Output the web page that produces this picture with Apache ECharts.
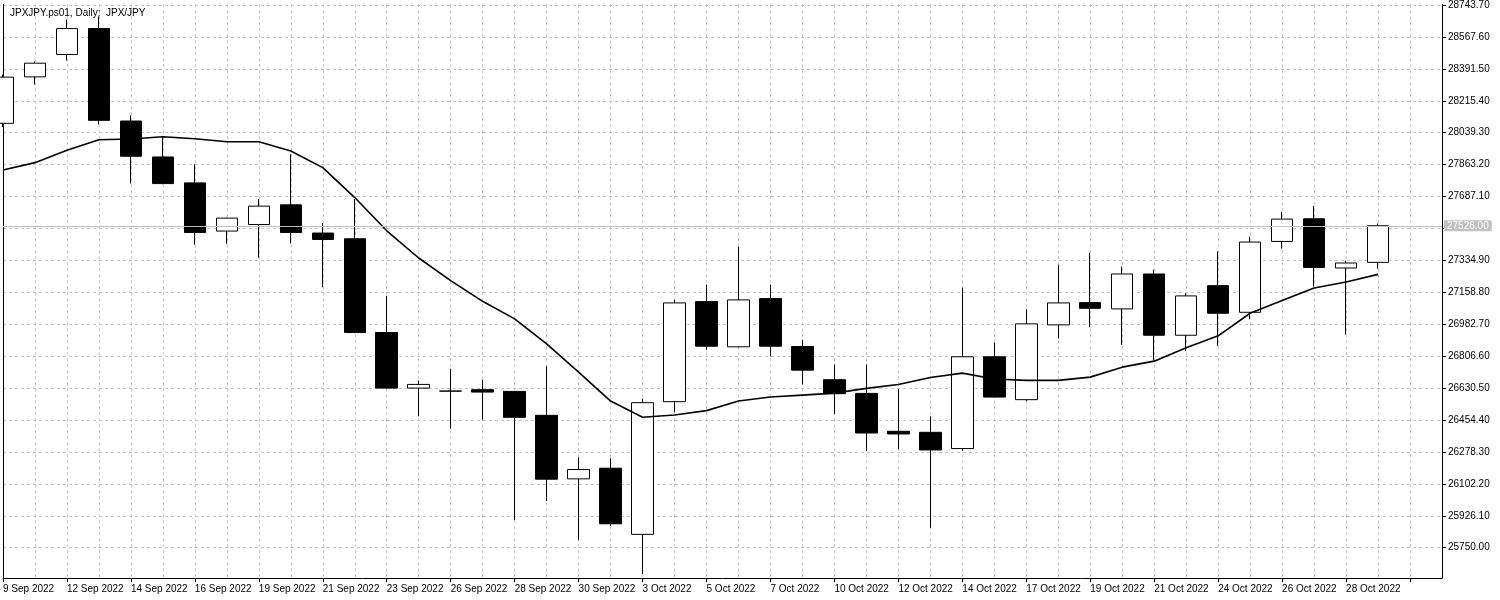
<!DOCTYPE html>
<html>
<head>
<meta charset="utf-8">
<script src="https://cdn.jsdelivr.net/npm/echarts@6/dist/echarts.min.js"></script>
<style>
html,body{margin:0;padding:0;background:#fff;}
#chart{width:1500px;height:600px;}
</style>
</head>
<body>
<div id="chart"></div>
<script>
const chartTitle = 'JPXJPY.ps01, Daily:  JPX/JPY';

const categories = [
  '9 Sep 2022','10 Sep 2022','12 Sep 2022','13 Sep 2022','14 Sep 2022','15 Sep 2022','16 Sep 2022','17 Sep 2022',
  '19 Sep 2022','20 Sep 2022','21 Sep 2022','22 Sep 2022','23 Sep 2022','24 Sep 2022',
  '26 Sep 2022','27 Sep 2022','28 Sep 2022','29 Sep 2022','30 Sep 2022','1 Oct 2022',
  '3 Oct 2022','4 Oct 2022','5 Oct 2022','6 Oct 2022','7 Oct 2022','8 Oct 2022',
  '10 Oct 2022','11 Oct 2022','12 Oct 2022','13 Oct 2022','14 Oct 2022','15 Oct 2022',
  '17 Oct 2022','18 Oct 2022','19 Oct 2022','20 Oct 2022','21 Oct 2022','22 Oct 2022',
  '24 Oct 2022','25 Oct 2022','26 Oct 2022','27 Oct 2022','28 Oct 2022','29 Oct 2022',
  '',''
];

const opens = [28091, 28347.4, 28470.7, 28613.8, 28103.6, 27905.5, 27762.5, 27496.7, 27533, 27641.4,
  27485.7, 27454.3, 26937, 26630.5, 26614, 26621.7, 26612.3, 26480.3, 26129.8, 26188.6,
  25823.8, 26555.6, 27107.6, 26858.3, 27124.1, 26860, 26676.7, 26601.3, 26392.2, 26386.7,
  26297, 26803.3, 26566.7, 26979.3, 27102.1, 27067.4, 27260, 26922.1, 27195.7, 27048.7,
  27439.5, 27564.4, 27293, 27324.1];

const closes = [28345.8, 28422.8, 28613.8, 28107.5, 27909.4, 27758.6, 27489, 27568.2, 27634.2, 27489,
  27450.5, 26937, 26630.5, 26650.8, 26614, 26608.5, 26469.3, 26128.1, 26181.5, 25882.1,
  26550.1, 27100.4, 26861.6, 27117, 26861.6, 26729.6, 26599.6, 26382.8, 26377.4, 26289.3,
  26803.3, 26580.9, 26984.8, 27100.4, 27070.7, 27260, 26922.1, 27139, 27043.3, 27436.1,
  27562.7, 27296.4, 27320.6, 27526];

const lows = [28070, 28305.6, 28437.7, 28085.5, 27758.6, 27755, 27421.3, 27426.8, 27349.7, 27428.4,
  27186.3, 26933.2, 26628, 26474.8, 26407, 26456.8, 25902.5, 26007, 25792.4, 25869.5,
  25605.3, 26496.8, 26841.8, 26855, 26805, 26650.8, 26487.4, 26283.8, 26293.2, 25860,
  26285, 26578, 26558.9, 26904, 26966, 26869.3, 26782.9, 26834.1, 26861.6, 27010,
  27399.3, 27190, 26926, 27289.5];

const highs = [28360, 28433.8, 28663.3, 28681.5, 28135, 28015.6, 27865.4, 27570, 27672.8, 27920.4,
  27540.7, 27672.8, 27139, 26672.9, 26737.3, 26676.7, 26614, 26749.9, 26249.2, 26243.7,
  26572.1, 27117.5, 27201.1, 27410.3, 27201.1, 26896.8, 26760.9, 26760.9, 26625, 26474.8,
  27184.6, 26880.9, 27065.2, 27311.2, 27377.2, 27300.2, 27283.7, 27153.3, 27384.4, 27465.2,
  27602.9, 27635.9, 27333.2, 27538.5];

const maValues = [27833.9, 27874.2, 27942.4, 28000.7, 28004.6, 28017.2, 28006.2, 27989.7, 27989.7, 27938.5,
  27846.6, 27681.6, 27498.3, 27348.1, 27223.2, 27109.3, 27012.4, 26874.9, 26718.6, 26559,
  26469.3, 26482, 26506.2, 26559, 26581, 26592, 26603, 26628.8, 26650.8, 26689.3,
  26713, 26681.1, 26672.9, 26672.9, 26691, 26746, 26779.1, 26852.8, 26918.8, 27043.3,
  27113.1, 27183, 27216, 27257.8];

const yTicks = [25750.0, 25926.1, 26102.2, 26278.3, 26454.4, 26630.5, 26806.6, 26982.7, 27158.8,
  27334.9, 27511.0, 27687.1, 27863.2, 28039.3, 28215.4, 28391.5, 28567.6, 28743.7];

const lastPrice = 27526.00;
const yMin = 25583;
const yMax = 28747.5;

const FONT = '"Liberation Sans", Arial, sans-serif';
const candleData = opens.map((o, i) => [o, closes[i], lows[i], highs[i]]);

const chart = echarts.init(document.getElementById('chart'), null, {renderer: 'canvas'});
chart.setOption({
  animation: false,
  backgroundColor: '#ffffff',
  textStyle: {fontFamily: FONT},
  title: {
    text: chartTitle, left: 5, top: 3,
    textStyle: {fontSize: 10, fontWeight: 'normal', color: '#000', fontFamily: FONT}
  },
  grid: {left: 2, right: 58, top: 3, bottom: 22, containLabel: false},
  xAxis: {
    type: 'category',
    data: categories,
    boundaryGap: false,
    axisLine: {show: true, onZero: false, lineStyle: {color: '#000', width: 1}},
    axisTick: {show: true, interval: 1, length: 4, lineStyle: {color: '#000'}},
    axisLabel: {interval: 1, align: 'left', margin: 6, color: '#000', fontSize: 10, fontFamily: FONT},
    splitLine: {show: true, interval: 0, lineStyle: {color: '#c6c6c6', type: [3, 3], width: 1}}
  },
  yAxis: [{
    type: 'value',
    position: 'right',
    min: yMin, max: yMax,
    axisLine: {show: true, lineStyle: {color: '#000', width: 1}},
    axisTick: {show: true, length: 4, customValues: yTicks, lineStyle: {color: '#000'}},
    axisLabel: {customValues: yTicks, margin: 6, color: '#000', fontSize: 10, fontFamily: FONT,
      formatter: v => Number(v).toFixed(2)},
    splitLine: {show: true, lineStyle: {color: '#c6c6c6', type: [3, 3], width: 1}}
  }, {
    type: 'value',
    position: 'left',
    min: yMin, max: yMax,
    axisLine: {show: true, lineStyle: {color: '#000', width: 1}},
    axisTick: {show: false},
    axisLabel: {show: false},
    splitLine: {show: false}
  }],
  series: [{
    type: 'candlestick',
    data: candleData,
    barWidth: 22,
    yAxisIndex: 0,
    itemStyle: {
      color: '#ffffff', color0: '#000000',
      borderColor: '#000000', borderColor0: '#000000', borderColorDoji: '#000000',
      borderWidth: 1
    },
    emphasis: {disabled: true}
  }, {
    type: 'line',
    data: maValues,
    yAxisIndex: 0,
    showSymbol: false,
    symbol: 'none',
    clip: false,
    lineStyle: {color: '#000', width: 1.6},
    emphasis: {disabled: true},
    markLine: {
      silent: true,
      symbol: ['none', 'none'],
      data: [{yAxis: lastPrice}],
      lineStyle: {color: '#c0c0c0', type: 'solid', width: 1},
      label: {
        show: true, position: 'end', distance: 2,
        formatter: () => lastPrice.toFixed(2),
        color: '#ffffff', backgroundColor: '#c0c0c0',
        padding: [1, 3, 0, 3], fontSize: 10, fontFamily: FONT
      }
    }
  }]
});
</script>
</body>
</html>
